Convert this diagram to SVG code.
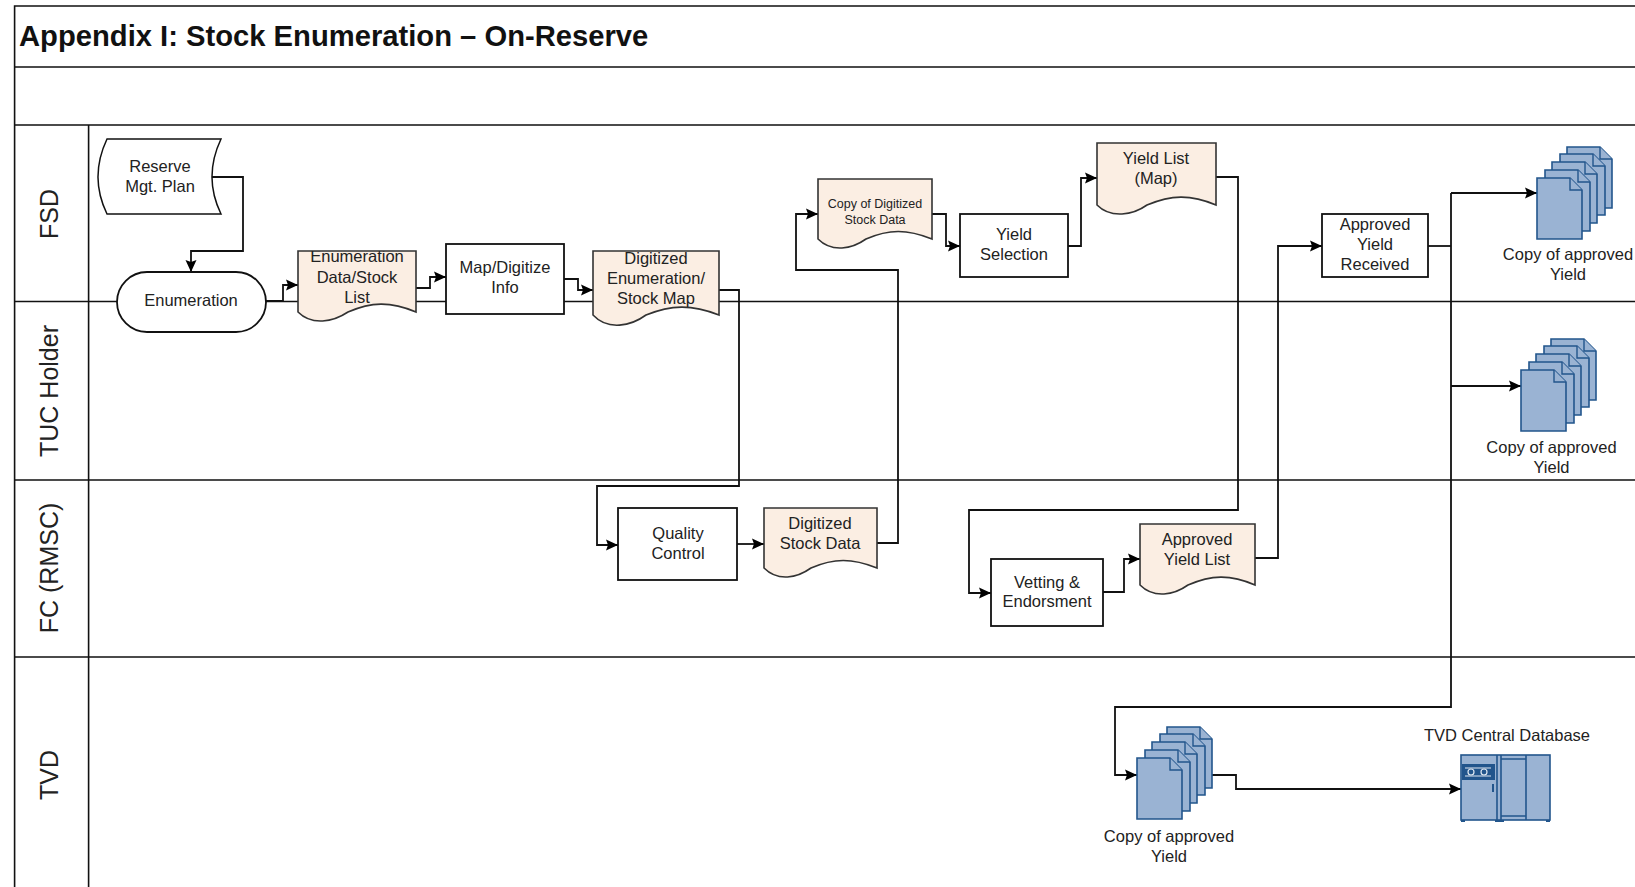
<svg xmlns="http://www.w3.org/2000/svg" width="1635" height="887" viewBox="0 0 1635 887">
<style>
text{font-family:"Liberation Sans",Arial,sans-serif;font-size:16.5px;fill:#222;text-anchor:middle}
.title{font-size:29.2px;font-weight:bold;text-anchor:start;fill:#111}
.lane{font-size:25px}
.small{font-size:12.5px}
.frame{fill:none;stroke:#111;stroke-width:1.6}
.box{fill:#fff;stroke:#111;stroke-width:1.8}
.doc{fill:#fbeee3;stroke:#333;stroke-width:1.6}
.page{fill:#9ab3d3;stroke:#22558c;stroke-width:1.6}
.pagefold{fill:#9ab3d3;stroke:#22558c;stroke-width:1.4}
.dark{fill:#22558c}
.conn{fill:none;stroke:#111;stroke-width:1.8;marker-end:url(#arrow)}
.plain{fill:none;stroke:#111;stroke-width:1.8}
</style>
<defs>
<marker id="arrow" markerUnits="userSpaceOnUse" markerWidth="13" markerHeight="13" refX="12" refY="6.5" orient="auto"><path d="M0,1 L12,6.5 L0,12 L2,6.5 Z" fill="#000"/></marker>
<g id="pg"><path class="page" d="M0,0 H33 L45,12 V61 H0 Z"/><path class="pagefold" d="M33,0 V12 H45"/></g>
<g id="stack">
<use href="#pg" x="30" y="-31"/><use href="#pg" x="23" y="-24"/><use href="#pg" x="15" y="-16"/><use href="#pg" x="8" y="-8"/><use href="#pg" x="0" y="0"/>
</g>
<clipPath id="clipA"><rect x="298" y="251" width="118" height="70"/></clipPath>
<clipPath id="clipB"><rect x="593" y="251" width="126" height="74"/></clipPath>
</defs>
<rect width="1635" height="887" fill="#fff"/>
<g id="frame">
<path class="frame" d="M1635,6 H14.6 V887 M14.6,67 H1635 M14.6,125 H1635 M88.6,125 V887 M14.6,301.5 H1635 M14.6,480 H1635 M14.6,657 H1635"/>
<text class="title" x="19" y="46">Appendix I: Stock Enumeration – On-Reserve</text>
<text class="lane" transform="translate(58,214) rotate(-90)">FSD</text>
<text class="lane" transform="translate(58,391) rotate(-90)">TUC Holder</text>
<text class="lane" transform="translate(58,568) rotate(-90)">FC (RMSC)</text>
<text class="lane" transform="translate(58,775) rotate(-90)">TVD</text>
</g>
<g id="connectors">
<path class="conn" d="M212,177 H243 V251 H191 V272"/>
<path class="conn" d="M266,301 H283 V285 H298"/>
<path class="conn" d="M416,288 H430 V277 H446"/>
<path class="conn" d="M564,279 H578 V290 H593"/>
<path class="conn" d="M719,290 H739 V486 H597 V545 H618"/>
<path class="conn" d="M737,544 H764"/>
<path class="conn" d="M877,543 H898 V270 H796 V214 H818"/>
<path class="conn" d="M932,214 H946 V246 H960"/>
<path class="conn" d="M1068,246 H1081 V178 H1097"/>
<path class="conn" d="M1216,177 H1238 V510 H969 V593 H991"/>
<path class="conn" d="M1103,592 H1124 V559 H1140"/>
<path class="conn" d="M1255,558 H1278 V246 H1322"/>
<path class="plain" d="M1428,246 H1451"/>
<path class="conn" d="M1451,193 V707 H1115 V775 H1137"/>
<path class="conn" d="M1451,193 H1537"/>
<path class="conn" d="M1451,386 H1521"/>
<path class="conn" d="M1209,775 H1236 V789 H1461"/>
</g>
<g id="reserve-plan">
<path class="box" style="stroke-width:1.5" d="M107,139 H221 Q203,177 221,214 H107 Q89,177 107,139 Z"/>
<text x="160" y="171.5">Reserve</text><text x="160" y="192">Mgt. Plan</text>
</g>
<g id="enumeration">
<rect class="box" x="117" y="272" width="149" height="60" rx="30" ry="30"/>
<text x="191" y="305.5">Enumeration</text>
</g>
<g id="enum-data">
<path class="doc" d="M298,251 H416 V312 C390,301 371,302 348,312 C333,322 312,326 298,312 Z"/>
<g clip-path="url(#clipA)"><text x="357" y="262">Enumeration</text></g>
<text x="357" y="283">Data/Stock</text><text x="357" y="302.5">List</text>
</g>
<g id="map-digitize">
<rect class="box" x="446" y="244" width="118" height="70"/>
<text x="505" y="272.5">Map/Digitize</text><text x="505" y="292.5">Info</text>
</g>
<g id="digitized-enum">
<path class="doc" d="M593,251 H719 V315 C691,304 671,305 646,315 C631,326 608,331 593,315 Z"/>
<g clip-path="url(#clipB)"><text x="656" y="264">Digitized</text></g>
<text x="656" y="284">Enumeration/</text><text x="656" y="303.5">Stock Map</text>
</g>
<g id="copy-digitized">
<path class="doc" d="M818,179 H932 V239 C907,229 889,229 866,239 C852,249 832,253 818,239 Z"/>
<text class="small" x="875" y="208">Copy of Digitized</text><text class="small" x="875" y="224">Stock Data</text>
</g>
<g id="yield-selection">
<rect class="box" x="960" y="214" width="108" height="63"/>
<text x="1014" y="240">Yield</text><text x="1014" y="260">Selection</text>
</g>
<g id="yield-list">
<path class="doc" d="M1097,143 H1216 V205 C1190,194 1171,195 1147,205 C1133,215 1111,219 1097,205 Z"/>
<text x="1156" y="164">Yield List</text><text x="1156" y="184">(Map)</text>
</g>
<g id="approved-received">
<rect class="box" x="1322" y="214" width="106" height="63"/>
<text x="1375" y="229.5">Approved</text><text x="1375" y="249.5">Yield</text><text x="1375" y="270">Received</text>
</g>
<g id="quality-control">
<rect class="box" x="618" y="508" width="119" height="72"/>
<text x="678" y="538.5">Quality</text><text x="678" y="559">Control</text>
</g>
<g id="digitized-stock">
<path class="doc" d="M764,508 H877 V568 C852,558 834,558 811,568 C797,578 778,582 764,568 Z"/>
<text x="820" y="529">Digitized</text><text x="820" y="548.5">Stock Data</text>
</g>
<g id="vetting">
<rect class="box" x="991" y="559" width="112" height="67"/>
<text x="1047" y="587.5">Vetting &amp;</text><text x="1047" y="607">Endorsment</text>
</g>
<g id="approved-list">
<path class="doc" d="M1140,524 H1255 V585 C1230,574 1211,575 1188,585 C1174,595 1154,599 1140,585 Z"/>
<text x="1197" y="544.5">Approved</text><text x="1197" y="564.5">Yield List</text>
</g>
<g id="copy-fsd">
<use href="#stack" x="1537" y="178"/>
<text x="1568" y="260">Copy of approved</text><text x="1568" y="280">Yield</text>
</g>
<g id="copy-tuc">
<use href="#stack" x="1521" y="370"/>
<text x="1551.5" y="453">Copy of approved</text><text x="1551.5" y="473">Yield</text>
</g>
<g id="copy-tvd">
<use href="#stack" x="1137" y="758"/>
<text x="1169" y="842">Copy of approved</text><text x="1169" y="862">Yield</text>
</g>
<g id="tvd-database">
<text x="1507" y="741">TVD Central Database</text>
<rect class="page" x="1461" y="755" width="89" height="65"/>
<path class="plain" style="stroke:#22558c;stroke-width:1.6" d="M1497,755 V820 M1501,755 V820 M1526,755 V820 M1501,759 H1526 M1501,816 H1526"/>
<rect class="dark" x="1462" y="764" width="33" height="16"/>
<g fill="none" stroke="#dfe8f2" stroke-width="1.2"><circle cx="1471" cy="772" r="3"/><circle cx="1484" cy="772" r="3"/><path d="M1465,768 H1491 M1465,776 H1491"/></g>
<rect class="dark" x="1492" y="784" width="2" height="8"/>
<path class="dark" d="M1461,820 H1465 V822 H1461 Z M1495,820 H1504 V822 H1495 Z M1546,820 H1550 V822 H1546 Z"/>
</g>
</svg>
